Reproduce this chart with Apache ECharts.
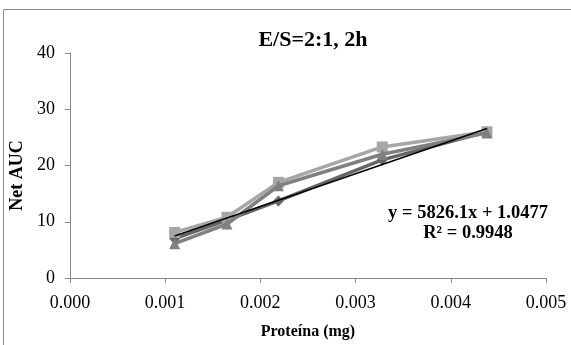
<!DOCTYPE html>
<html>
<head>
<meta charset="utf-8">
<script src="https://cdn.jsdelivr.net/npm/echarts@6/dist/echarts.min.js"></script>
<style>
  html, body { margin: 0; padding: 0; background: #fff; }
  #chart { width: 571px; height: 345px; }
</style>
</head>
<body>
<div id="chart"></div>
<script>
// Protein amount (mg) for each sample
const proteinMg = [0.0011, 0.00165, 0.00219, 0.00328, 0.00438];

// Net AUC for the three replicate series
const seriesDiamond = [7.0, 10.3, 13.7, 21.0, 26.0];
const seriesSquare = [8.1, 10.8, 17.0, 23.3, 26.0];
const seriesTriangle = [6.1, 9.6, 16.4, 22.0, 25.8];

// Linear trend fitted to the data
const trendSlope = 5826.1;
const trendIntercept = 1.0477;
const trendR2 = 0.9948;

// Axis ticks
const xTicks = ['0.000', '0.001', '0.002', '0.003', '0.004', '0.005'];
const yTicks = [0, 10, 20, 30, 40];

const titleText = 'E/S=2:1, 2h';
const xName = 'Proteína (mg)';
const yName = 'Net AUC';

const FONT = '"Liberation Serif", "Times New Roman", serif';

const trendX = [proteinMg[0], proteinMg[proteinMg.length - 1]];
const trendData = trendX.map(x => [x, trendSlope * x + trendIntercept]);

const pairs = ys => proteinMg.map((x, i) => [x, ys[i]]);

const chart = echarts.init(document.getElementById('chart'), null, { renderer: 'canvas' });

chart.setOption({
  animation: false,
  backgroundColor: '#ffffff',
  title: {
    text: titleText,
    left: 308,
    top: 24,
    textAlign: 'center',
    textStyle: { fontFamily: FONT, fontWeight: 'bold', fontSize: 22, color: '#000' }
  },
  grid: { left: 69, right: 25, top: 53, bottom: 62 },
  xAxis: {
    type: 'value',
    min: 0,
    max: 0.005,
    interval: 0.001,
    name: xName,
    nameLocation: 'middle',
    nameGap: 46,
    nameTextStyle: { fontFamily: FONT, fontWeight: 'bold', fontSize: 16, color: '#000' },
    axisLine: { show: true, lineStyle: { color: '#868686', width: 1 } },
    axisTick: { show: true, inside: false, length: 5, lineStyle: { color: '#868686' } },
    axisLabel: {
      margin: 16,
      fontFamily: FONT, fontSize: 18, color: '#000',
      formatter: v => xTicks[Math.round(v / 0.001)]
    },
    splitLine: { show: false }
  },
  yAxis: {
    type: 'value',
    min: yTicks[0],
    max: yTicks[yTicks.length - 1],
    interval: 10,
    name: yName,
    nameLocation: 'middle',
    nameGap: 42,
    nameRotate: 90,
    nameTextStyle: { fontFamily: FONT, fontWeight: 'bold', fontSize: 18, color: '#000', padding: [0, 20, 0, 0] },
    axisLine: { show: true, lineStyle: { color: '#868686', width: 1 } },
    axisTick: { show: true, inside: false, length: 5, lineStyle: { color: '#868686' } },
    axisLabel: { margin: 15, fontFamily: FONT, fontSize: 18, color: '#000' },
    splitLine: { show: false }
  },
  graphic: [
    {
      type: 'rect',
      shape: { x: 3.5, y: 9.5, width: 700, height: 500 },
      style: { fill: 'none', stroke: '#8a8a8a', lineWidth: 1 },
      silent: true,
      z: -1
    },
    {
      type: 'text',
      x: 468,
      y: 203,
      style: {
        text: 'y = ' + trendSlope + 'x + ' + trendIntercept + '\nR² = ' + trendR2,
        align: 'center',
        verticalAlign: 'top',
        fontFamily: FONT,
        fontWeight: 'bold',
        fontSize: 18.5,
        lineHeight: 20,
        fill: '#000'
      }
    }
  ],
  series: [
    {
      name: 'diamond',
      type: 'line',
      data: pairs(seriesDiamond),
      symbol: 'diamond',
      symbolSize: 11,
      lineStyle: { color: '#666666', width: 3.5 },
      itemStyle: { color: '#666666' },
      z: 2
    },
    {
      name: 'square',
      type: 'line',
      data: pairs(seriesSquare),
      symbol: 'rect',
      symbolSize: 11,
      lineStyle: { color: '#a6a6a6', width: 3.5 },
      itemStyle: { color: '#a6a6a6' },
      z: 3
    },
    {
      name: 'triangle',
      type: 'line',
      data: pairs(seriesTriangle),
      symbol: 'triangle',
      symbolSize: 11,
      lineStyle: { color: '#808080', width: 3.5 },
      itemStyle: { color: '#808080' },
      z: 4
    },
    {
      name: 'trend',
      type: 'line',
      data: trendData,
      symbol: 'none',
      lineStyle: { color: '#000000', width: 1.5 },
      z: 5
    }
  ]
});
</script>
</body>
</html>
